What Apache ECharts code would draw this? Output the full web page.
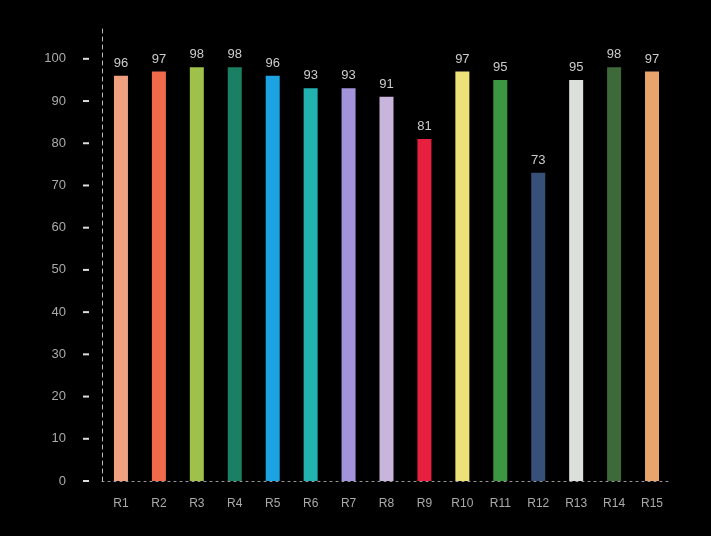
<!DOCTYPE html>
<html><head><meta charset="utf-8">
<script src="https://cdn.jsdelivr.net/npm/echarts@6/dist/echarts.min.js"></script>
<style>html,body{margin:0;padding:0;background:#000;}#c{width:711px;height:536px;}</style>
</head><body><div id="c"></div>
<script>
const categories = ['R1','R2','R3','R4','R5','R6','R7','R8','R9','R10','R11','R12','R13','R14','R15'];
const values = [96,97,98,98,96,93,93,91,81,97,95,73,95,98,97];
const barColors = ['#F0A07E','#EE6A4A','#9FC04A','#1A7F63','#1DA2E2','#22B2B0','#A393DA','#C9B4DC','#E8203F','#EDE17A','#3C9642','#36507A','#DCE0DC','#3E6A3A','#E8A46C'];
const yTicks = [0,10,20,30,40,50,60,70,80,90,100];

const chart = echarts.init(document.getElementById('c'));
chart.setOption({
  backgroundColor: '#000',
  animation: false,
  grid: {left: 102, right: 40, top: 28, bottom: 55},
  xAxis: {
    type: 'category',
    data: categories,
    axisLine: {show: true, lineStyle: {color: '#999', type: [2, 4], width: 1}},
    axisTick: {show: false},
    axisLabel: {color: '#aaa', fontSize: 12, fontFamily: 'Liberation Sans', margin: 17}
  },
  yAxis: {
    type: 'value',
    min: 0, max: 107.3, interval: 10,
    splitLine: {show: false},
    axisLine: {show: true, lineStyle: {color: '#bbb', type: [4, 4], width: 1}},
    axisTick: {show: false},
    axisLabel: {
      showMaxLabel: false,
      margin: 13,
      formatter: function (v) { return yTicks.indexOf(v) >= 0 ? '{v|' + v + '}{s|}{t|}' : ''; },
      rich: {
        v: {color: '#aaa', fontSize: 13, fontFamily: 'Liberation Sans'},
        s: {width: 17, height: 2},
        t: {width: 6, height: 2, backgroundColor: '#ddd', padding: 0}
      }
    }
  },
  series: [{
    type: 'bar',
    barWidth: 14,
    data: values.map((v, i) => ({value: v, itemStyle: {color: barColors[i]}})),
    label: {show: true, position: 'top', distance: 6, color: '#ccc', fontSize: 13, fontFamily: 'Liberation Sans'}
  }]
});
</script></body></html>
